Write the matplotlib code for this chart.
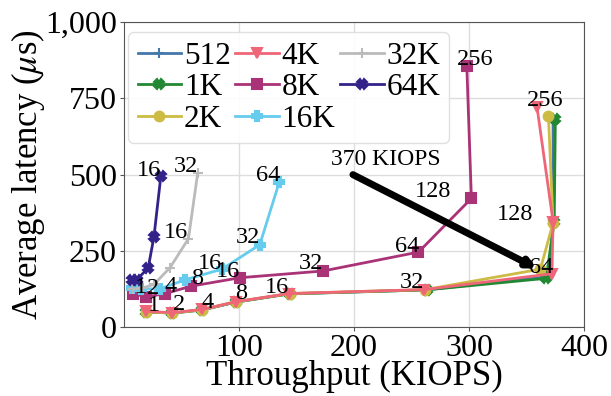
import matplotlib
matplotlib.use("Agg")
import matplotlib.pyplot as plt
from matplotlib.ticker import FuncFormatter

plt.rcParams['font.family'] = ['Liberation Serif', 'DejaVu Serif']
plt.rcParams['mathtext.fontset'] = 'stix'

# ---- data (throughput in KIOPS, latency in us) ----
qd = [1, 2, 4, 8, 16, 32, 64, 128, 256]

x_512 = [19, 42, 68, 97, 143, 262, 369, 373, 373]
y_512 = [50, 46, 56, 82, 109, 122, 165, 345, 684]
x_1k = [19, 42, 68, 97, 144, 263, 367, 374, 375]
y_1k = [50, 46, 57, 82, 109, 122, 160, 345, 684]
x_2k = [19, 42, 68, 97, 144, 262, 362, 373, 369]
y_2k = [50, 46, 57, 83, 110, 123, 190, 342, 692]
x_4k = [19, 42, 68, 97, 143, 261, 372, 373, 359]
y_4k = [52, 47, 58, 83, 110, 123, 175, 346, 723]
x_8k = [8, 19, 36, 58, 101, 173, 256, 302, 298]
y_8k = [110, 99, 110, 134, 162, 184, 246, 422, 857]
qd_16k = [1, 2, 4, 8, 16, 32, 64]
x_16k = [6.5, 15, 31, 53, 85, 118, 135]
y_16k = [128, 126, 125, 155, 190, 270, 476]
qd_32k = [1, 2, 4, 8, 16, 32]
x_32k = [8, 16, 26, 40, 56, 64]
y_32k = [125, 128, 140, 195, 290, 504]
qd_64k = [1, 2, 4, 8, 16]
x_64k = [6.7, 11, 21, 26, 32]
y_64k = [155, 155, 194, 296, 495]

series_names = ['512', '1K', '2K', '4K', '8K', '16K', '32K', '64K']
series_x = [x_512, x_1k, x_2k, x_4k, x_8k, x_16k, x_32k, x_64k]
series_y = [y_512, y_1k, y_2k, y_4k, y_8k, y_16k, y_32k, y_64k]

colors = ['#4477AA', '#228833', '#CCBB44', '#EE6677', '#AA3377',
          '#66CCEE', '#BBBBBB', '#332288']
markers = ['+', 'X', 'o', 'v', 's', 'P', '+', 'X']

# labelled points: (series index, queue depths to label)
labelled = [(3, [1, 2, 4, 8, 16, 32, 64, 128, 256]),
            (4, [1, 2, 4, 8, 16, 32, 64, 128, 256]),
            (5, [16, 32, 64]),
            (6, [16, 32]),
            (7, [16])]
series_qd = [qd, qd, qd, qd, qd, qd_16k, qd_32k, qd_64k]
# label offsets in pixels per queue depth
label_off = {1: (8, 6), 2: (7, 8), 4: (5, 7), 8: (6, 8), 16: (-12, 6),
             32: (-12, 7), 64: (-11, 6), 128: (-38, 7), 256: (8, 6)}

fig = plt.figure(figsize=(6.11, 3.96), dpi=100)
ax = fig.add_axes([0.203, 0.174, 0.753, 0.770])

for name, xs, ys, c, m in zip(series_names, series_x, series_y, colors, markers):
    ax.plot(xs, ys, color=c, marker=m, lw=2, ms=7, mew=1.5, label=name)

for si, qlist in labelled:
    for q in qlist:
        i = series_qd[si].index(q)
        dx, dy = label_off[q]
        ax.annotate(str(q), (series_x[si][i], series_y[si][i]),
                    xytext=(dx, dy), textcoords='offset pixels',
                    ha='center', va='center', fontsize=17.5, zorder=6)

ax.text(180, 548, '370 KIOPS', fontsize=17, ha='left', va='center')
ax.annotate('', xy=(359, 192), xytext=(199, 500),
            arrowprops=dict(arrowstyle='-|>', lw=5, color='black',
                            mutation_scale=12, shrinkA=0, shrinkB=0))

ax.set_xlim(0, 400)
ax.set_ylim(0, 1000)
ax.set_xticks([100, 200, 300, 400])
ax.set_yticks([0, 250, 500, 750, 1000])
ax.yaxis.set_major_formatter(FuncFormatter(lambda v, p: f'{int(v):,}'))
ax.tick_params(labelsize=23, length=3, pad=2, color='#555555')
ax.grid(True, color='#dddddd', lw=1)
ax.set_axisbelow(True)
for s in ax.spines.values():
    s.set_color('#555555')

ax.set_xlabel('Throughput (KIOPS)', fontsize=25, labelpad=-2)
ax.set_ylabel(r'Average latency ($\mu$s)', fontsize=25, labelpad=-1)

leg = ax.legend(ncol=3, loc='upper left', bbox_to_anchor=(0.009, 0.967),
                fontsize=22.5, handlelength=1.4,
                handletextpad=0.08, columnspacing=0.15, labelspacing=0.08,
                borderpad=0.3, borderaxespad=0.0, framealpha=0.9,
                edgecolor='#dddddd')

fig.savefig('out.png', dpi=100)
